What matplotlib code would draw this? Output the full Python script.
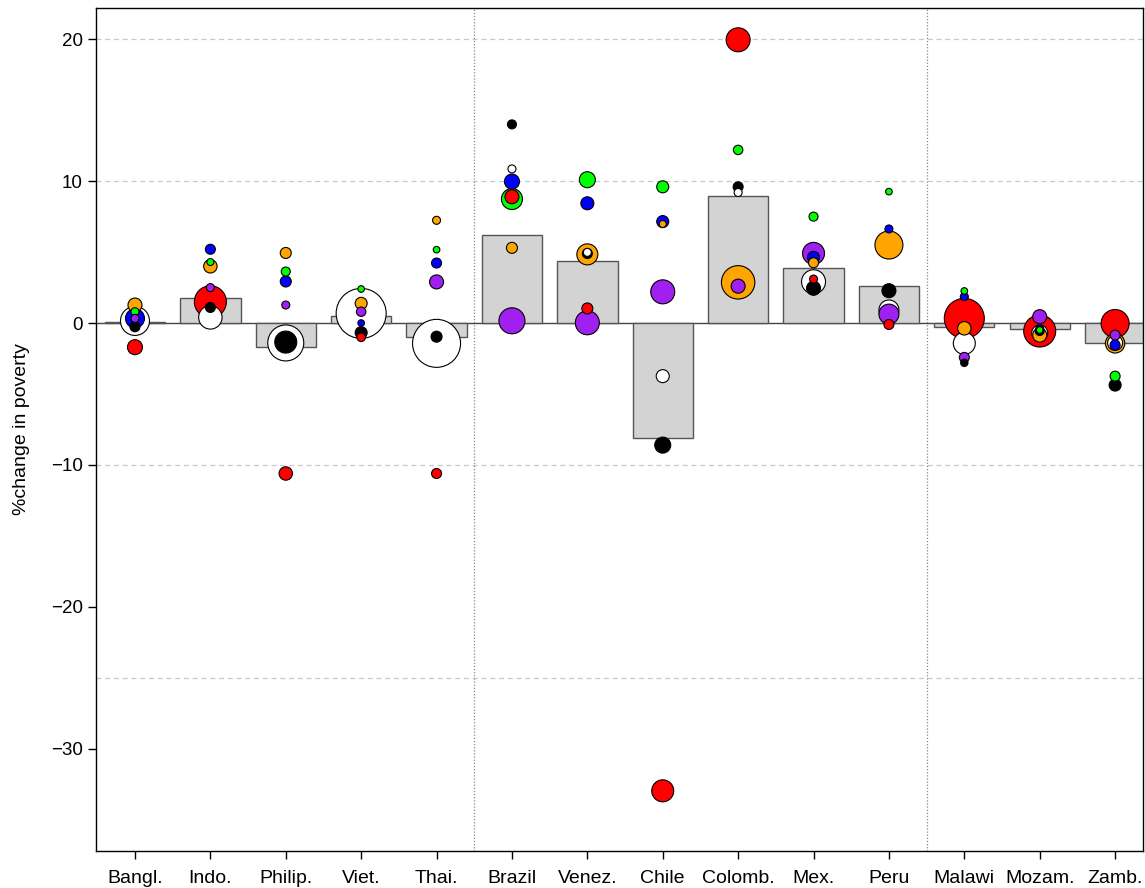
import numpy as np
import matplotlib
matplotlib.use("Agg")
import matplotlib.pyplot as plt

plt.rcParams['font.family'] = ['Liberation Sans', 'DejaVu Sans']

# paises e barras
countries = ["Bangl.", "Indo.", "Philip.", "Viet.", "Thai.", "Brazil", "Venez.",
             "Chile", "Colomb.", "Mex.", "Peru", "Malawi", "Mozam.", "Zamb."]
bars = [0.05, 1.8, -1.7, 0.5, -1.0, 6.2, 4.4, -8.13, 8.95, 3.9, 2.63, -0.3, -0.45, -1.39]

# pontos por cenario (valor, raio)
black = [-0.26, 1.1, -1.34, -0.68, -0.96, 14.0, 4.9, -8.6, 9.6, 2.45, 2.28, -2.8, -0.56, -4.37]
black_w = [5, 5, 11, 6, 5.5, 4.5, 5, 8, 5, 7, 7, 3.7, 4.5, 6]
white = [0.15, 0.4, -1.4, 0.68, -1.43, 10.86, 4.98, -3.74, 9.2, 2.91, 0.92, -1.43, -0.7, -1.4]
white_w = [14.5, 11.7, 18, 25, 24, 4, 4, 6.5, 4, 12, 10, 11, 8, 7.5]
red = [-1.7, 1.5, -10.6, -1.0, -10.6, 8.9, 1.03, -32.96, 19.96, 3.1, -0.1, 0.33, -0.56, -0.03]
red_w = [7.5, 16, 6.7, 4.3, 5, 7, 5.5, 11, 12, 4, 5, 20, 16, 14]
green = [0.8, 4.3, 3.63, 2.4, 5.17, 8.74, 10.1, 9.6, 12.2, 7.5, 9.26, 2.26, -0.49, -3.74]
green_w = [4, 3.5, 4.5, 3.3, 3.3, 10.5, 8, 6, 4.7, 4.5, 3.3, 3.3, 3.3, 5]
blue = [0.33, 5.2, 2.93, 0.0, 4.23, 9.97, 8.44, 7.15, np.nan, 4.63, 6.63, 1.86, -0.42, -1.55]
blue_w = [9.5, 5, 5.5, 3.3, 5, 7.5, 6.5, 6, 5, 6, 4, 4, 4, 5]
purple = [0.33, 2.5, 1.27, 0.8, 2.9, 0.16, 0.02, 2.2, 2.6, 4.91, 0.63, -2.42, 0.45, -0.85]
purple_w = [4, 4, 4, 4.7, 7, 13, 12, 12, 7, 11, 10, 5, 7, 5]
orange = [1.27, 4.0, 4.94, 1.39, 7.24, 5.3, 4.84, 6.98, 2.87, 4.25, 5.5, -0.37, -0.85, -1.43]
orange_w = [7, 6.7, 5.5, 6, 4, 5.5, 10.5, 3.5, 16.7, 5, 14, 6.7, 7, 9.7]

series = [(black, black_w, "black"), (white, white_w, "white"), (red, red_w, "red"),
          (green, green_w, "#00ff00"), (blue, blue_w, "blue"),
          (purple, purple_w, "#a020f0"), (orange, orange_w, "orange")]

fig = plt.figure(figsize=(11.45, 8.88), dpi=100)
ax = fig.add_axes([96/1145, 1 - 851/888, 1047/1145, (851 - 8)/888])

x = np.arange(len(countries))

# grade
for g in [20, 10, -10, -25]:
    ax.axhline(g, color="#c8c8c8", lw=0.9, ls=(0, (4, 3)), zorder=0)
for v in [4.5, 10.5]:
    ax.axvline(v, color="#888888", lw=0.9, ls=(0, (1, 1.5)), zorder=0)
ax.axhline(0, color="#444444", lw=1.0, zorder=1)

ax.bar(x, bars, width=0.8, color="#d3d3d3", edgecolor="#555555", lw=1.0, zorder=2)

# juntar pontos e desenhar do maior para o menor
px, py, pr, pc = [], [], [], []
for vals, w, c in series:
    for i in range(len(countries)):
        if np.isnan(vals[i]):
            continue
        px.append(x[i]); py.append(vals[i]); pr.append(w[i]); pc.append(c)
order = np.argsort(-np.array(pr), kind="stable")
px = np.array(px)[order]; py = np.array(py)[order]
pr = np.array(pr)[order]; pc = [pc[k] for k in order]
ax.scatter(px, py, s=(1.44 * pr) ** 2, c=pc, edgecolors="black", linewidths=0.8, zorder=3)

ax.set_xlim(-0.517, 13.37)
ax.set_ylim(-37.2, 22.2)
ax.set_xticks(x)
ax.set_xticklabels(countries, fontsize=14)
ax.set_yticks([20, 10, 0, -10, -20, -30])
ax.tick_params(axis="y", labelsize=13.5, length=6, width=1, direction="out")
ax.tick_params(axis="x", length=6, width=1, direction="out", pad=8)
ax.set_ylabel("%change in poverty", fontsize=14, labelpad=15)
for s in ax.spines.values():
    s.set_linewidth(1)

fig.savefig("out.png", dpi=100)
